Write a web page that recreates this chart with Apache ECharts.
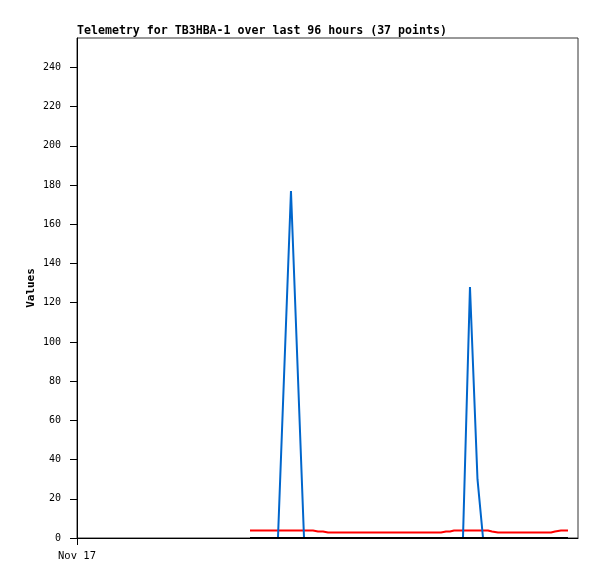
<!DOCTYPE html>
<html>
<head>
<meta charset="utf-8">
<script src="https://cdn.jsdelivr.net/npm/echarts@6/dist/echarts.min.js"></script>
<style>
html,body{margin:0;padding:0;background:#fff;}
#chart{width:597px;height:579px;}
</style>
</head>
<body>
<div id="chart"></div>
<script>
// hours since Nov 17 00:00
var hours = [33.15, 34.87, 36.60, 38.51, 41.00, 43.50, 45.22, 46.18, 47.14, 48.10,
             50.39, 52.69, 54.99, 57.29, 59.59, 61.89, 64.19, 68.79, 69.75, 70.71,
             71.47, 72.24, 73.96, 75.30, 76.74, 77.80, 78.75, 79.52, 79.90, 80.67,
             83.35, 86.04, 88.72, 90.83, 91.59, 92.74, 94.08];
var blueValues = [0, 0, 0, 0, 177, 0, 0, 0, 0, 0,
                  0, 0, 0, 0, 0, 0, 0, 0, 0, 0,
                  0, 0, 0, 128, 30, 0, 0, 0, 0, 0,
                  0, 0, 0, 0, 0, 0, 0];
var redValues = [3.8, 3.8, 3.8, 3.8, 3.8, 3.8, 3.8, 3.3, 3.3, 2.8,
                 2.8, 2.8, 2.8, 2.8, 2.8, 2.8, 2.8, 2.8, 2.8, 3.3,
                 3.3, 3.8, 3.8, 3.8, 3.8, 3.8, 3.8, 3.3, 3.3, 2.8,
                 2.8, 2.8, 2.8, 2.8, 3.3, 3.8, 3.8];
var blackValues = [0, 0, 0, 0, 0, 0, 0, 0, 0, 0,
                   0, 0, 0, 0, 0, 0, 0, 0, 0, 0,
                   0, 0, 0, 0, 0, 0, 0, 0, 0, 0,
                   0, 0, 0, 0, 0, 0, 0];
var yTicks = [0, 20, 40, 60, 80, 100, 120, 140, 160, 180, 200, 220, 240];
var xTicks = [0];
var xTickLabels = ['Nov 17'];
var titleText = 'Telemetry for TB3HBA-1 over last 96 hours (37 points)';
var yName = 'Values';

function pairs(vals) {
  return hours.map(function (h, i) { return [h, vals[i]]; });
}
var FONT = 'DejaVu Sans Mono';
var chart = echarts.init(document.getElementById('chart'), null, {renderer: 'canvas'});
chart.setOption({
  animation: false,
  backgroundColor: '#ffffff',
  title: {
    text: titleText,
    left: 77,
    top: 25,
    padding: 0,
    textStyle: {fontFamily: FONT, fontSize: 11.6, fontWeight: 'bold', color: '#000'}
  },
  grid: {
    left: 77, top: 38, right: 19, bottom: 41,
    show: true, borderColor: '#333', borderWidth: 1, backgroundColor: 'transparent'
  },
  xAxis: {
    type: 'value',
    min: 0, max: 96,
    splitLine: {show: false},
    axisLine: {lineStyle: {color: '#000', width: 1}},
    axisTick: {show: true, length: 7, lineStyle: {color: '#000'}, customValues: xTicks},
    axisLabel: {
      customValues: xTicks,
      margin: 13,
      fontFamily: FONT, fontSize: 10.5, color: '#000',
      formatter: function (v) { var i = xTicks.indexOf(v); return i >= 0 ? xTickLabels[i] : ''; }
    }
  },
  yAxis: {
    type: 'value',
    min: 0, max: 255,
    name: yName,
    nameLocation: 'middle',
    nameGap: 40,
    nameMoveOverlap: false,
    nameTextStyle: {fontFamily: FONT, fontSize: 11, fontWeight: 'bold', color: '#000'},
    splitLine: {show: false},
    axisLine: {show: true, lineStyle: {color: '#000', width: 1}},
    axisTick: {show: true, length: 7, lineStyle: {color: '#000'}, customValues: yTicks},
    axisLabel: {customValues: yTicks, margin: 16, padding: [3, 0, 0, 0], fontFamily: FONT, fontSize: 10, color: '#000'}
  },
  series: [
    {type: 'line', data: pairs(redValues), showSymbol: false, symbol: 'none',
     lineStyle: {color: '#ff0000', width: 2}, z: 2},
    {type: 'line', data: pairs(blueValues), showSymbol: false, symbol: 'none',
     lineStyle: {color: '#0066cc', width: 2}, z: 3},
    {type: 'line', data: pairs(blackValues), showSymbol: false, symbol: 'none',
     lineStyle: {color: '#000000', width: 2}, z: 4}
  ]
});
</script>
</body>
</html>
